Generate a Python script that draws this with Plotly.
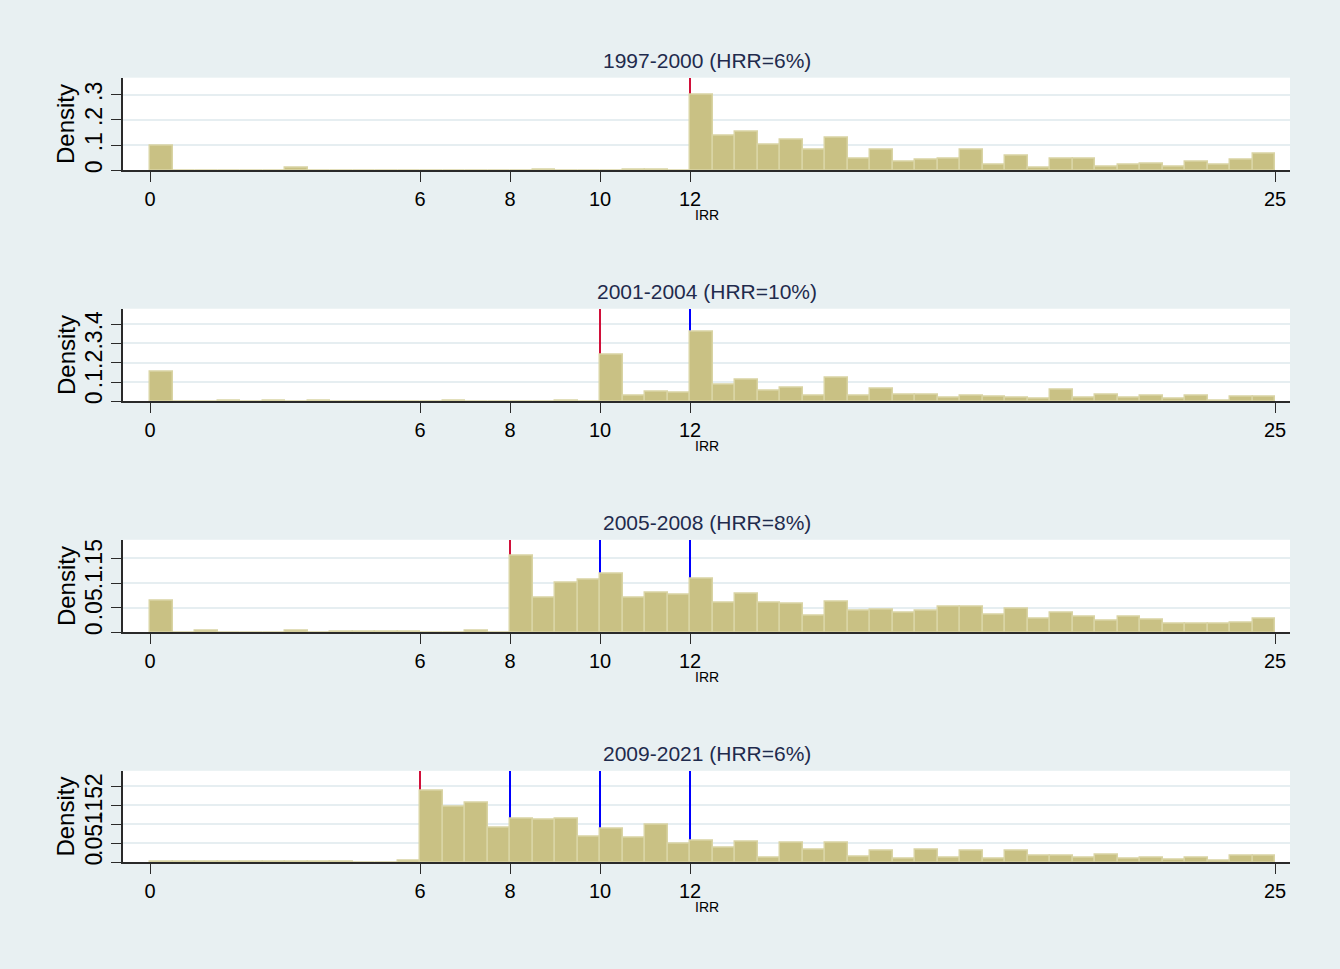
import plotly.graph_objects as go

# ---- data -------------------------------------------------------------
bin_width = 0.5
bin_starts = [i * bin_width for i in range(50)]  # 0.0 ... 24.5

titles = ["1997-2000 (HRR=6%)", "2001-2004 (HRR=10%)",
          "2005-2008 (HRR=8%)", "2009-2021 (HRR=6%)"]

dens_1997 = [0.097, 0, 0, 0, 0, 0, 0.009, 0, 0, 0,
             0, 0, 0, 0, 0, 0, 0, 0.004, 0, 0,
             0, 0.004, 0.004, 0,
             0.302, 0.139, 0.152, 0.102, 0.122, 0.083, 0.128, 0.048, 0.083, 0.036,
             0.041, 0.048, 0.083, 0.023, 0.060, 0.009, 0.048, 0.048, 0.016, 0.023,
             0.028, 0.016, 0.036, 0.023, 0.041, 0.065]

dens_2001 = [0.153, 0, 0, 0.004, 0, 0.004, 0, 0.004, 0, 0,
             0, 0, 0, 0.004, 0, 0, 0, 0, 0.004, 0,
             0.241, 0.029, 0.048, 0.043,
             0.359, 0.084, 0.110, 0.053, 0.071, 0.028, 0.121, 0.028, 0.064, 0.034,
             0.034, 0.019, 0.031, 0.026, 0.019, 0.012, 0.060, 0.017, 0.036, 0.021,
             0.031, 0.012, 0.029, 0.003, 0.026, 0.026]

dens_2005 = [0.065, 0, 0.003, 0, 0, 0, 0.003, 0, 0.002, 0.002,
             0.002, 0.002, 0, 0, 0.003, 0,
             0.155, 0.070, 0.101, 0.107, 0.119, 0.071, 0.081, 0.076,
             0.108, 0.060, 0.078, 0.060, 0.058, 0.033, 0.063, 0.043, 0.045, 0.040,
             0.044, 0.051, 0.051, 0.035, 0.047, 0.028, 0.040, 0.031, 0.024, 0.031,
             0.026, 0.017, 0.017, 0.017, 0.020, 0.028]

dens_2009 = [0.002, 0.002, 0.002, 0.002, 0.002, 0.002, 0.002, 0.002, 0.002, 0,
             0, 0.003,
             0.188, 0.146, 0.156, 0.092, 0.115, 0.111, 0.115, 0.067, 0.088, 0.066,
             0.100, 0.049,
             0.056, 0.038, 0.054, 0.011, 0.052, 0.033, 0.052, 0.015, 0.030, 0.010,
             0.032, 0.013, 0.030, 0.010, 0.031, 0.017, 0.017, 0.013, 0.019, 0.009,
             0.013, 0.007, 0.013, 0.005, 0.017, 0.017]

series = [dens_1997, dens_2001, dens_2005, dens_2009]

# hurdle-rate (red) and other reference (blue) lines per panel
red_lines = [12, 10, 8, 6]
blue_lines = [[], [12], [10, 12], [8, 10, 12]]

x_tickvals = [0, 6, 8, 10, 12, 25]
y_tickvals = [[0, 0.1, 0.2, 0.3],
              [0, 0.1, 0.2, 0.3, 0.4],
              [0, 0.05, 0.1, 0.15],
              [0, 0.05, 0.1, 0.15, 0.2]]
y_ticktext = [["0", ".1", ".2", ".3"],
              ["0", ".1", ".2", ".3", ".4"],
              ["0", ".05", ".1", ".15"],
              ["0", ".05", ".1", ".15", ".2"]]
y_max = [0.368, 0.480, 0.188, 0.241]

# ---- layout geometry (pixels) ----------------------------------------
W, H = 1340, 969
plot_left, plot_right = 123, 1290
panel_tops = [77, 309, 541, 773]
panel_bottoms = [170, 402, 634, 865]
px_per_unit = (plot_right - plot_left) / (25.333 + 0.6)

BG = "#e8f0f2"
BAR_FILL = "#c9c184"
BAR_LINE = "#d9d4a4"
AXIS = "#2a2a2a"
GRID = "#e6eef1"
RED = "#d0103a"
BLUE = "#0000ff"
FONT = "Liberation Sans, Arial, sans-serif"

fig = go.Figure()
layout = dict(
    width=W, height=H,
    margin=dict(l=0, r=0, t=0, b=0),
    paper_bgcolor=BG, plot_bgcolor="white",
    showlegend=False,
    font=dict(family=FONT, color="black"),
    bargap=0,
    barmode="overlay",
)
annotations = []

for k in range(4):
    xa = "x" if k == 0 else f"x{k+1}"
    ya = "y" if k == 0 else f"y{k+1}"
    xname = "xaxis" if k == 0 else f"xaxis{k+1}"
    yname = "yaxis" if k == 0 else f"yaxis{k+1}"

    # reference lines: thin full-height bars drawn before (beneath) the histogram
    line_x = [red_lines[k]] + blue_lines[k]
    line_c = [RED] + [BLUE] * len(blue_lines[k])
    fig.add_trace(go.Bar(
        x=line_x, y=[y_max[k]] * len(line_x),
        width=2.0 / px_per_unit,
        marker=dict(color=line_c, line=dict(width=0)),
        xaxis=xa, yaxis=ya, hoverinfo="x",
    ))

    fig.add_trace(go.Bar(
        x=[s + bin_width / 2 for s in bin_starts],
        y=series[k],
        width=bin_width,
        marker=dict(color=BAR_FILL, line=dict(color=BAR_LINE, width=1.5)),
        xaxis=xa, yaxis=ya,
        hoverinfo="x+y",
    ))

    y0 = 1 - panel_bottoms[k] / H
    y1 = 1 - panel_tops[k] / H
    layout[xname] = dict(
        domain=[plot_left / W, plot_right / W],
        anchor=ya,
        range=[-0.6, 25.333],
        tickvals=x_tickvals,
        ticktext=[str(v) for v in x_tickvals],
        ticks="outside", ticklen=10, tickwidth=1.3, tickcolor=AXIS,
        showline=True, linecolor=AXIS, linewidth=1.5,
        showgrid=False, zeroline=False,
        tickfont=dict(size=20, color="black", family=FONT),
        fixedrange=True,
    )
    layout[yname] = dict(
        domain=[y0, y1],
        anchor=xa,
        range=[0, y_max[k]],
        tickvals=y_tickvals[k],
        ticktext=y_ticktext[k],
        tickangle=-90,
        ticks="outside", ticklen=10, tickwidth=1.3, tickcolor=AXIS,
        showline=True, linecolor=AXIS, linewidth=1.5,
        showgrid=True, gridcolor=GRID, gridwidth=2,
        zeroline=False,
        tickfont=dict(size=23, color="black", family=FONT),
        fixedrange=True,
    )

    # panel title
    annotations.append(dict(
        text=titles[k], xref="paper", yref="paper",
        x=(plot_left + plot_right) / 2 / W, y=1 - (panel_tops[k] - 17) / H,
        xanchor="center", yanchor="middle", showarrow=False,
        font=dict(size=21, color="#1f2b4d", family=FONT),
    ))
    # x axis title
    annotations.append(dict(
        text="IRR", xref="paper", yref="paper",
        x=(plot_left + plot_right) / 2 / W, y=1 - (panel_bottoms[k] + 45) / H,
        xanchor="center", yanchor="middle", showarrow=False,
        font=dict(size=14, color="black", family=FONT),
    ))
    # y axis title
    annotations.append(dict(
        text="Density", xref="paper", yref="paper",
        x=66 / W, y=1 - (panel_tops[k] + panel_bottoms[k]) / 2 / H,
        xanchor="center", yanchor="middle", showarrow=False, textangle=-90,
        font=dict(size=24, color="black", family=FONT),
    ))

layout["annotations"] = annotations
fig.update_layout(**layout)

fig.write_html("out.html")
